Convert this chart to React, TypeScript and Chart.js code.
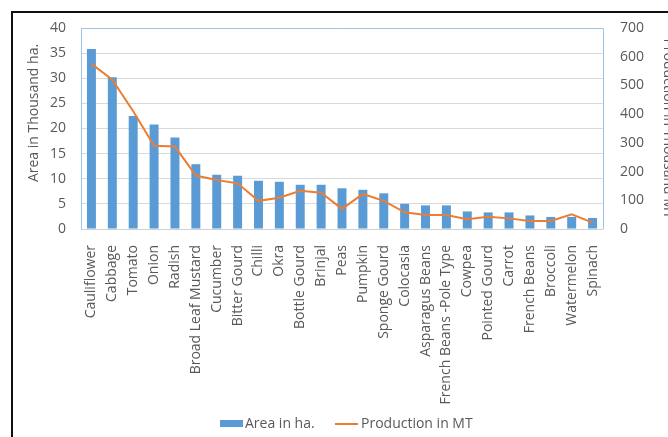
import React, { useEffect, useRef } from "react";
import { Chart, registerables } from "chart.js";

Chart.register(...registerables);

const categories = [
  "Cauliflower", "Cabbage", "Tomato", "Onion", "Radish", "Broad Leaf Mustard",
  "Cucumber", "Bitter Gourd", "Chilli", "Okra", "Bottle Gourd", "Brinjal", "Peas",
  "Pumpkin", "Sponge Gourd", "Colocasia", "Asparagus Beans", "French Beans -Pole Type",
  "Cowpea", "Pointed Gourd", "Carrot", "French Beans", "Broccoli", "Watermelon", "Spinach",
];
const areaThousandHa = [
  35.8, 30.2, 22.5, 20.8, 18.2, 12.9, 10.8, 10.6, 9.6, 9.4, 8.8, 8.8, 8.1,
  7.8, 7.1, 5.0, 4.7, 4.7, 3.5, 3.3, 3.3, 2.7, 2.4, 2.4, 2.2,
];
const productionThousandMT = [
  575, 520, 410, 290, 287, 186, 171, 159, 98, 109, 133, 126, 70,
  122, 98, 58, 49, 49, 34, 43, 37, 28, 28, 51, 22,
];
const leftTitle = "Area in Thousand ha.";
const rightTitle = "Production in Thousand MT";
const areaLabel = "Area in ha.";
const prodLabel = "Production in MT";

const FONT = "'Open Sans', 'Liberation Sans', sans-serif";
const GREY = "#595959";
const BLUE = "#5B9BD5";
const ORANGE = "#ED7D31";

const decor = {
  id: "decor",
  beforeDatasetsDraw(chart: any) {
    const { ctx, chartArea: a } = chart;
    ctx.save();
    ctx.lineWidth = 1;
    ctx.strokeStyle = "#D0D0D0";
    ctx.beginPath();
    ctx.moveTo(a.left, Math.round(a.bottom) + 0.5);
    ctx.lineTo(a.right, Math.round(a.bottom) + 0.5);
    ctx.stroke();
    ctx.strokeStyle = "#9DC3E6";
    ctx.beginPath();
    ctx.moveTo(Math.round(a.left) + 0.5, Math.round(a.bottom));
    ctx.lineTo(Math.round(a.left) + 0.5, Math.round(a.top) + 0.5);
    ctx.lineTo(Math.round(a.right) + 0.5, Math.round(a.top) + 0.5);
    ctx.lineTo(Math.round(a.right) + 0.5, Math.round(a.bottom));
    ctx.stroke();
    ctx.restore();
  },
  afterDraw(chart: any) {
    const { ctx, chartArea: a } = chart;
    ctx.save();
    ctx.fillStyle = GREY;
    ctx.font = `14px ${FONT}`;
    // left axis title
    ctx.save();
    ctx.translate(38, 113);
    ctx.rotate(-Math.PI / 2);
    ctx.textAlign = "center";
    ctx.textBaseline = "alphabetic";
    ctx.fillText(leftTitle, 0, 0);
    ctx.restore();
    // right axis title (partly cropped by the picture edge)
    ctx.save();
    ctx.translate(664, (a.top + a.bottom) / 2);
    ctx.rotate(Math.PI / 2);
    ctx.textAlign = "center";
    ctx.textBaseline = "alphabetic";
    ctx.fillText(rightTitle, 0, 0);
    ctx.restore();
    // legend
    ctx.fillStyle = BLUE;
    ctx.fillRect(220, 420, 23, 7);
    ctx.fillStyle = GREY;
    ctx.textAlign = "left";
    ctx.textBaseline = "middle";
    ctx.fillText(areaLabel, 245, 424);
    ctx.strokeStyle = ORANGE;
    ctx.lineWidth = 2;
    ctx.beginPath();
    ctx.moveTo(335, 424);
    ctx.lineTo(358, 424);
    ctx.stroke();
    ctx.fillText(prodLabel, 361, 424);
    ctx.restore();
  },
};

export default function App() {
  const ref = useRef<HTMLCanvasElement | null>(null);
  useEffect(() => {
    if (!ref.current) return;
    const tickFont = { family: FONT, size: 14 };
    const chart = new Chart(ref.current, {
      type: "bar",
      data: {
        labels: categories,
        datasets: [
          {
            type: "line",
            label: prodLabel,
            data: productionThousandMT,
            yAxisID: "y1",
            borderColor: ORANGE,
            backgroundColor: ORANGE,
            borderWidth: 2,
            pointRadius: 0,
            tension: 0,
            order: 0,
          } as any,
          {
            type: "bar",
            label: areaLabel,
            data: areaThousandHa,
            yAxisID: "y",
            backgroundColor: BLUE,
            barPercentage: 0.43,
            categoryPercentage: 1,
            order: 1,
          },
        ],
      },
      options: {
        animation: false,
        responsive: false,
        maintainAspectRatio: false,
        events: [],
        layout: { padding: { top: 28, left: 0, right: 0, bottom: 0 } },
        plugins: { legend: { display: false }, tooltip: { enabled: false } },
        scales: {
          x: {
            grid: { display: false },
            border: { display: false },
            ticks: {
              color: GREY,
              font: tickFont,
              maxRotation: 90,
              minRotation: 90,
              autoSkip: false,
              padding: 8,
            },
            afterFit: (s: any) => { s.height = 208; },
          },
          y: {
            position: "left",
            min: 0,
            max: 40,
            ticks: { stepSize: 5, color: GREY, font: tickFont, padding: 15 },
            grid: { color: "#D9D9D9", drawTicks: false },
            border: { display: false },
            afterFit: (s: any) => { s.width = 81; },
          },
          y1: {
            position: "right",
            min: 0,
            max: 700,
            ticks: { stepSize: 100, color: GREY, font: tickFont, padding: 17 },
            grid: { display: false, drawTicks: false },
            border: { display: false },
            afterFit: (s: any) => { s.width = 65; },
          },
        },
      },
      plugins: [decor],
    });
    return () => chart.destroy();
  }, []);
  return (
    <div style={{ position: "absolute", left: 0, top: 0, width: 668, height: 437, overflow: "hidden", background: "#fff" }}>
      <canvas ref={ref} width={668} height={437} style={{ display: "block", width: 668, height: 437 }} />
      <div
        style={{
          position: "absolute",
          left: 11,
          top: 11,
          width: 800,
          height: 600,
          border: "2px solid #111",
          boxSizing: "border-box",
          pointerEvents: "none",
        }}
      />
    </div>
  );
}
